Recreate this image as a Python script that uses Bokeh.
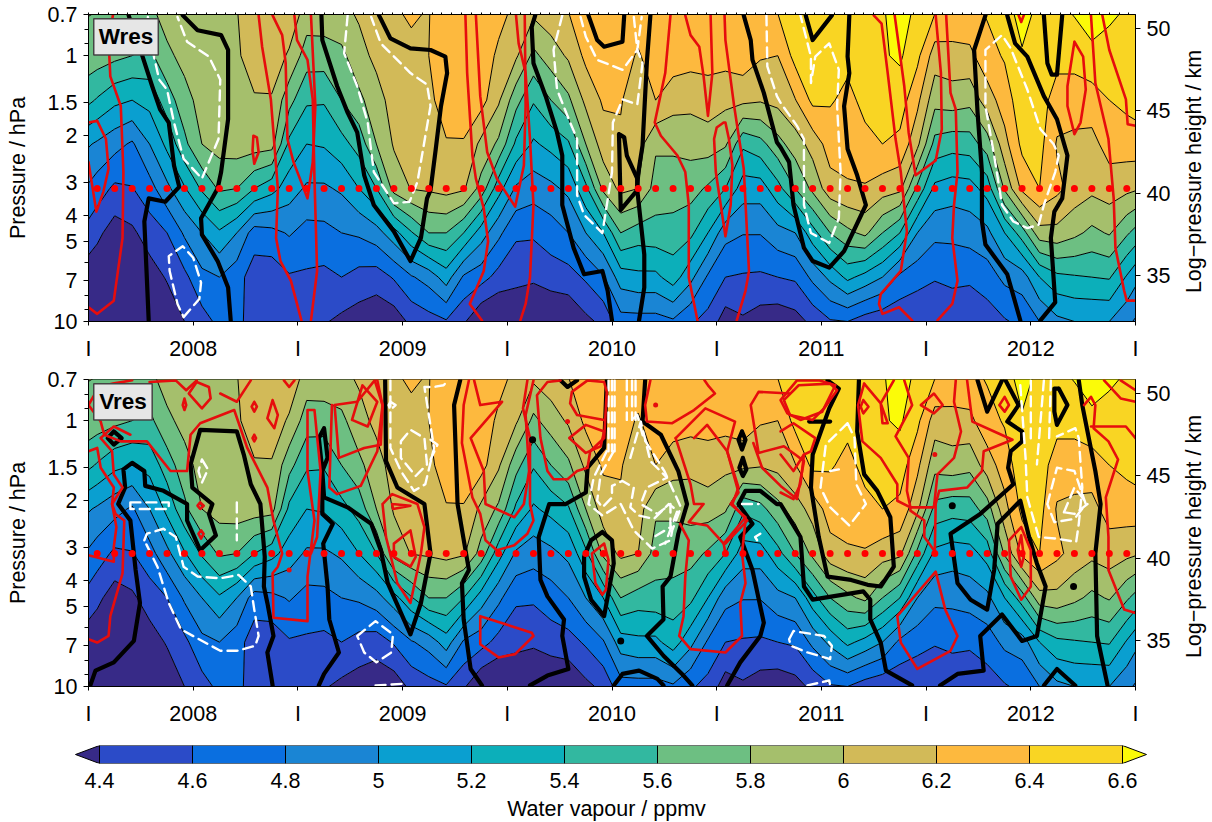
import numpy as np
from bokeh.core.properties import value
from bokeh.embed import file_html
from bokeh.layouts import column, row
from bokeh.models import FixedTicker, LinearAxis, Range1d
from bokeh.plotting import figure
from bokeh.resources import INLINE

# --- axes content -----------------------------------------------------------
levels_hpa = [10, 6.81, 4.64, 3.16, 2.15, 1.47, 1.0, 0.68]
left_ticks_hpa = [0.7, 1, 1.5, 2, 3, 4, 5, 7, 10]
left_labels = ["0.7", "1", "1.5", "2", "3", "4", "5", "7", "10"]
left_minor_hpa = [0.8, 0.9, 6, 8, 9]
right_ticks_km = [35, 40, 45, 50]
year_labels = ["I", "2008", "I", "2009", "I", "2010", "I", "2011", "I", "2012", "I"]
cbar_levels = [4.4, 4.6, 4.8, 5.0, 5.2, 5.4, 5.6, 5.8, 6.0, 6.2, 6.4, 6.6]
cbar_labels = ["4.4", "4.6", "4.8", "5", "5.2", "5.4", "5.6", "5.8", "6", "6.2", "6.4", "6.6"]
band_colors = ["#372a87", "#2b4bc8", "#0a6fe0", "#1a85d4", "#0a9fd0", "#0cafba", "#32b8a0",
               "#6dbf82", "#a5bf6c", "#d2ba58", "#fdb93e", "#f9d523", "#fbfb08"]

# --- water vapour (ppmv): one row per month, one value per pressure level ------
wv_2008 = [
 [4.1,4.25,4.45,4.7,4.97,5.38,5.7,5.8],[4.05,4.2,4.3,4.56,4.87,5.25,5.65,5.78],
 [4.05,4.22,4.36,4.59,4.77,5.2,5.6,5.78],[4.1,4.3,4.5,4.72,5.0,5.27,5.55,5.75],
 [4.25,4.42,4.6,4.95,5.25,5.5,5.75,5.9],[4.4,4.55,4.83,5.18,5.55,5.72,5.87,5.95],
 [4.52,4.75,5.0,5.43,5.8,5.88,5.93,5.96],[4.65,4.8,5.17,5.63,5.88,5.92,5.95,5.97],
 [4.63,4.68,5.0,5.6,5.9,5.95,5.97,5.99],[4.55,4.5,4.7,5.4,5.9,5.98,6.1,6.18],
 [4.5,4.48,4.74,5.27,5.88,5.98,6.12,6.18],[4.45,4.58,4.82,5.1,5.35,5.67,5.97,6.15]]
wv_2009 = [
 [4.45,4.57,4.73,4.97,5.2,5.43,5.7,5.92],[4.42,4.55,4.74,4.97,5.22,5.42,5.7,5.93],
 [4.35,4.6,4.8,5.03,5.33,5.6,5.75,5.95],[4.3,4.53,4.83,5.2,5.48,5.75,5.93,6.03],
 [4.25,4.5,4.92,5.4,5.8,5.92,6.05,6.15],[4.28,4.62,5.12,5.88,6.02,6.08,6.14,6.18],
 [4.45,4.78,5.38,6.01,6.1,6.12,6.15,6.23],[4.52,4.88,5.6,6.03,6.15,6.17,6.2,6.19],
 [4.58,5.1,5.6,6.07,6.19,6.26,6.3,6.35],[4.43,4.77,5.4,6.03,6.19,6.27,6.32,6.36],
 [4.2,4.68,5.1,5.72,5.95,6.28,6.32,6.35],[4.15,4.53,4.85,5.28,5.76,6.03,6.16,6.27]]
wv_2010 = [
 [4.15,4.48,4.63,4.97,5.36,5.67,6.03,6.15],[4.15,4.44,4.63,4.89,5.17,5.42,5.75,6.05],
 [4.18,4.5,4.7,4.95,5.26,5.6,5.9,6.12],[4.22,4.52,4.8,5.05,5.37,5.76,6.03,6.2],
 [4.35,4.63,5.0,5.35,5.8,6.05,6.25,6.3],[4.45,4.78,5.2,5.85,6.1,6.23,6.3,6.36],
 [4.72,5.1,5.6,6.05,6.18,6.21,6.28,6.35],[4.72,5.15,5.5,6.0,6.08,6.12,6.18,6.3],
 [4.72,5.15,5.52,5.72,5.83,6.2,6.3,6.38],[4.77,5.3,5.5,5.72,5.83,6.09,6.3,6.38],
 [4.63,5.06,5.45,5.68,5.87,6.06,6.28,6.38],[4.53,4.77,5.2,5.57,5.9,6.1,6.28,6.38]]
wv_2011 = [
 [4.3,4.6,4.87,5.4,5.83,6.05,6.28,6.38],[4.37,4.58,4.81,5.1,5.44,6.05,6.32,6.4],
 [4.3,4.57,4.81,5.1,5.53,6.02,6.22,6.4],[4.27,4.6,4.93,5.33,5.73,6.06,6.2,6.41],
 [4.32,4.63,5.0,5.6,5.9,6.19,6.47,6.58],[4.45,4.85,5.32,5.85,6.08,6.45,6.52,6.58],
 [4.58,5.05,5.6,6.12,6.29,6.42,6.5,6.56],[4.6,5.25,5.75,6.18,6.27,6.35,6.45,6.55],
 [4.5,5.13,5.85,6.18,6.35,6.45,6.5,6.57],[4.45,5.0,5.6,6.1,6.4,6.5,6.58,6.58],
 [4.45,4.75,5.4,6.05,6.35,6.5,6.63,6.7],[4.42,4.68,5.0,5.55,6.05,6.25,6.45,6.55]]
wv_2012 = [
 [4.4,4.62,4.85,5.15,5.53,5.87,6.1,6.42],[4.45,4.65,4.85,5.1,5.48,5.9,6.13,6.35],
 [4.47,4.63,4.89,5.12,5.5,5.86,6.15,6.35],[4.5,4.7,4.95,5.28,5.7,6.1,6.33,6.42],
 [4.58,4.85,5.2,5.83,6.13,6.3,6.42,6.52],[4.65,4.9,5.5,6.25,6.45,6.52,6.58,6.68],
 [4.8,5.2,5.92,6.4,6.47,6.5,6.52,6.55],[4.95,5.35,5.94,6.25,6.18,6.3,6.47,6.55],
 [5.0,5.38,5.85,6.12,6.15,6.3,6.47,6.62],[5.0,5.4,5.75,6.05,6.14,6.3,6.55,6.7],
 [5.0,5.42,5.82,6.1,6.28,6.4,6.5,6.65],[4.85,5.18,5.63,6.05,6.3,6.45,6.52,6.58]]

# --- overlaid contours, as (months since start, log-pressure height km) --------
wres_black = [
 [(2.3,50.8),(3.1,48.3),(3.65,46.5),(4.1,45.1),(4.6,44.3),(4.9,41.7),(5.2,40.4),(4.4,39.5),(3.45,39.7),(3.2,38.3),(3.45,32.3)],
 [(5.4,50.8),(6.25,49.9),(7.6,49.6),(8,48.7),(8,44.5),(7.6,41.3),(7.4,40.3),(6.45,38.5),(6.5,37.5),(7.4,35.9),(8,34.3),(8.15,32.3)],
 [(13.35,50.8),(13.4,49.3),(14.25,46.5),(14.85,44.9),(15.4,43.7),(15.8,41.1),(16.35,39.3),(17.5,37.7),(18.45,35.9),(19.05,37.3),(19.4,39.7),(19.6,40.2),(19.9,42.7),(20.2,45.3),(20.55,47.3),(20.45,48.3),(19.6,48.7),(18.45,48.8),(17.3,49.4),(16.65,50.8)],
 [(25.6,50.8),(25.4,50.1),(25.5,47.9),(26.2,45.9),(26.85,43.7),(27.15,42.3),(27.15,39.3),(27.8,36.7),(28.4,35.1),(29.45,35.3),(29.75,34.1),(30,32.3)],
 [(28.65,50.8),(29.15,49.3),(29.55,48.9),(30.6,49.2),(30.7,50.8)],
 [(32.2,50.8),(32,48),(31.75,42.9),(31.45,40.9),(31.45,40.2),(31.85,36.3),(31.85,34.3),(31.55,32.3)],
 [(30.4,43.6),(30.7,43.4),(30.85,42.3),(31.45,40.9),(31.45,40.2),(30.5,39),(30.4,43.6)],
 [(37.55,50.8),(37.95,49.3),(38.05,48.1),(38.7,46.1),(39.45,43.1),(39.66,42.8),(40.15,41.9),(40.4,39.3),(41,36.7),(41.5,35.9),(42.45,35.5),(43.3,36.5),(44.55,39.3),(44.05,41.1),(43.5,42.7),(43.3,45.3),(43.6,47.3),(43.5,48.3),(43.6,50.8)],
 [(41.1,50.8),(41.5,49.3),(42.6,50.8)],
 [(51.4,50.8),(50.75,48.7),(50.95,44.9),(51.2,41.3),(51.2,38.3),(51.4,36.9),(52.65,35.1),(53.4,32.3)],
 [(52.65,50.8),(53.1,49.1),(53.8,48.3),(54.75,45.9),(55.5,44.5),(56.1,42.3),(55.8,39.7),(55.35,38.9),(55.15,37.3),(55.4,33.4),(54.55,32.3)],
 [(54.75,50.8),(54.95,47.9),(55.2,47.2),(55.5,47.2),(55.8,50.8)],
]
wres_red = [
 [(1.4,50.8),(1.15,49.3),(1.25,47.1),(1.85,45.3),(2,41.3),(1.95,37.3),(1.45,33.5),(.5,32.7),(0,33.1)],
 [(0,44.3),(.5,44.4),(1,43.3),(1.15,41.5),(.85,40.1),(.45,38.9),(0,41.9)],
 [(9.75,50.8),(9.95,48.9),(10.45,45.7),(10.85,40.3),(10.75,37.3),(11,35.9),(11.6,34.7),(12.2,32.3)],
 [(10.55,50.8),(11.1,49.6),(11.3,47.9),(11.4,43.3),(11.75,41.9),(12.55,39.7),(12.85,41.9),(13,45.3),(12.75,50.8)],
 [(11.8,50.8),(11.95,49.3),(12.55,48.1),(12.85,45.7),(12.95,40.9),(13.1,35.3),(12.75,32.3)],
 [(9.45,43.5),(9.65,43.4),(9.75,42.5),(9.5,41.8),(9.4,42.6),(9.45,43.5)],
 [(21.6,50.8),(21.7,47.3),(22,42.3),(22.2,40.9),(22.65,39.1),(22.9,37.1),(22.65,35.3),(21.85,33.3),(22.55,32.3)],
 [(22.2,50.8),(22.45,45.9),(22.85,42.5),(23.4,40.9),(24.45,39.2),(24.95,41.7),(25.05,45.3),(25,50.8)],
 [(24.5,50.8),(24.65,49.1),(25.05,47.3),(25.3,43.3),(25.5,39.3),(25.3,34.9),(25.05,33.3),(24.75,32.3)],
 [(33.35,50.8),(33.05,47.3),(32.45,44.3),(32.8,43.5),(33.75,42.3),(34.2,41.3),(34.4,39.3),(34.4,34.9),(34.9,32.3)],
 [(34.2,50.8),(34.5,49.6),(35,48.9),(35.25,47.1),(35.5,44.7),(35.75,47.3),(35.65,50.8)],
 [(36.45,50.8),(36.5,49.3),(37,45.3),(37.55,41.5),(37.85,35.3),(37.65,34.1),(37.15,32.3)],
 [(36.4,44.3),(36,44),(35.85,43.3),(35.95,41.3),(36.5,37.4),(36.8,39.3),(36.9,41.7),(36.7,43.3),(36.5,44.3),(36.4,44.3)],
 [(45,50.8),(45.45,50.3),(45.8,47.3),(46.25,43.3),(46.55,41.3),(46.9,37.7),(46.55,35.3),(45.4,33.9),(45.3,33.3),(45.5,32.7),(46.45,33.1),(47.2,32.3)],
 [(46.2,50.8),(46.75,46.5),(47,43.7),(47.4,41.1),(48.55,42),(48.9,43.9),(48.85,47.3),(48.55,50.8)],
 [(49.15,50.8),(49.4,46.1),(49.7,45.1),(49.8,41.3),(49.6,39.3),(49.5,37.3),(49.8,34.7),(49.5,33.3),(48.65,32.3)],
 [(53.3,50.8),(53.45,50.4),(53.6,50.8)],
 [(56.5,49.2),(57,48.3),(57.15,46.3),(56.85,44.3),(56.5,43.6),(56.1,45.3),(56.1,46.5),(56.5,49.2)],
 [(57.45,50.8),(57.7,46.7),(58.45,43.3),(58.75,39.7),(58.85,36.7),(59.35,34.1),(59.5,33.5),(60,33.5)],
 [(58.1,50.8),(58.5,48.7),(59.45,45.7),(59.55,44.2),(60,44.1)],
]
wres_white = [
 [(3.4,50.7),(3.75,48.3),(4.05,46.9),(4.5,46.3),(4.9,44.3),(5.45,42.1),(6.5,40.9),(7.45,43.3),(7.55,46.9),(6.9,48.3),(5.65,49.2),(5.1,50.7)],
 [(5.45,32.5),(6.35,33.6),(6.45,34.6),(6,36.1),(5.4,36.8),(4.6,36.2),(4.65,35.3),(5.1,33.3),(5.45,32.5)],
 [(14.85,50.8),(14.65,48.5),(15.4,46.5),(16,44.3),(16.35,41.3),(17.5,39.4),(18.4,39.5),(18.85,40.7),(19.6,45.3),(19.4,46.6),(18.45,47.3),(16.75,49.1),(16.2,50.7)],
 [(27.15,50.8),(26.65,48.7),(26.85,46.3),(27.6,44.3),(28,43.3),(28,39.9),(28.4,38.7),(29.45,37.6),(30,41.3),(30.05,44.3),(30.6,45.7),(31.45,45.4),(31.75,47.9),(31.45,48.7),(30.6,47.5),(29.15,48.1),(28.5,49.5),(28.2,50.7)],
 [(31.25,50.7),(31.45,48.7),(31.7,50.7)],
 [(38.85,50.8),(38.9,47.7),(39.45,45.9),(39.66,45.5),(40.6,44.1),(41,43.3),(41,39.3),(41.4,37.6),(42.45,37),(43,38.5),(43.1,41.3),(42.9,45.3),(43,47.5),(42.45,49.1),(41.65,48.3),(41.4,46.7),(41.4,48.3),(40.8,50.8)],
 [(51.4,48),(51.4,45.3),(51.9,42.3),(52.35,39.3),(53,38.3),(53.8,37.9),(54.45,38.1),(54.75,39.3),(55.4,41.3),(55.6,42.3),(55.3,43),(54.55,43.9),(53.8,46.3),(52.85,48.8),(52.35,49.6),(51.4,48.7),(51.4,48)],
]
vres_black = [
 [(1.45,47.7),(1.9,47.3),(1.45,46.9),(1.1,47.3),(1.45,47.7)],
 [(.1,32.3),(.4,33.2),(1.45,33.7),(2.6,35),(2.95,37.3),(2.7,39.3),(2.4,42.3),(1.7,43.3),(2.1,44.3),(2,45.4),(2.5,45.8),(3.2,45.3),(3.25,44.4),(4.3,44.1),(5.65,43.3),(5.65,42.3),(6.4,40.5),(7.3,41.4),(6.9,42.7),(7.1,43.3),(5.95,44.3),(5.85,45.7),(6.4,47.8),(8.5,47.7),(8.9,46.3),(9.3,44.5),(9.85,43.3),(10.1,40.1),(10.05,38.3),(10.25,37.3),(10.6,35.3),(10.25,34.3),(10.55,32.3)],
 [(13.2,32.3),(13.5,33),(14.35,34.3),(13.8,36.3),(13.7,38.3),(13.45,40.9),(14,42.1),(13.4,42.7),(13.4,45.3),(13.7,46.1),(13.5,47.9),(13.2,47.3),(13.4,45.3),(13.5,43.7),(14.85,43.1),(16.2,42.1),(16.75,40.5),(17.15,38.5),(18.45,35.4),(19.05,37.3),(19.6,40.3),(19.25,43.3),(17.7,44.3),(17.05,45.9),(17,50.8)],
 [(21.3,50.8),(20.95,49.3),(21.15,43.3),(21.8,39.3),(21.4,38.5),(21.5,36.3),(21.9,33.3),(22.55,32.3)],
 [(25.3,32.3),(26.3,32.9),(27.5,33.3),(27.15,35.3),(27.25,36.3),(26.3,37.7),(25.9,38.7),(25.8,41.3),(26.4,43.3),(27.35,43.3),(28.5,44),(28.6,45.5),(29.55,46.7),(29.7,50.8)],
 [(27.05,50.8),(27.45,50.4),(28,50.8)],
 [(29.45,41.6),(30,41.1),(30.1,39.7),(29.55,36.5),(28.8,37.5),(28.4,38.9),(28.4,40.1),(28.8,41.1),(29.45,41.6)],
 [(31.9,50.8),(31.75,48.3),(32.8,47.5),(33.8,45.3),(34.3,43.3),(33.8,41.5),(33.35,38.9),(32.9,38.3),(32.95,36.3),(32,35.3),(32.95,34.1),(34.1,32.9),(34.6,32.3)],
 [(30.1,32.3),(30.6,33),(31.55,33.2),(32.6,32.7),(32.95,32.3)],
 [(37.45,47.7),(37.65,47.2),(37.45,46.6),(37.25,47.2),(37.45,47.7)],
 [(37.5,46.1),(37.7,45.4),(37.5,45),(37.3,45.5),(37.5,46.1)],
 [(36.6,32.3),(37.35,33.7),(38.5,35.3),(38.7,36.1),(38.05,39.3),(37.35,41.3),(38.05,42.1),(37.25,43.3),(37.65,44.1),(38.5,44.1),(39.45,43.3),(39.66,43.3),(40.8,41.3),(41,38.3),(41.5,37.5),(44.4,38),(44.8,37.5),(44.8,36.3),(45.4,34.9),(45.7,33.2),(47.2,32.3)],
 [(41.3,48.3),(42.5,48.3)],
 [(42.35,50.8),(43,50.3),(42.45,49.1),(41.5,46.3),(41.4,44.3),(41.85,41.3),(42.35,38.9),(43.7,38.7),(44.65,38.4),(45.4,38.3),(46.15,39.5),(45.95,42.5),(45.2,44.1),(44.45,45.1),(44.05,47.7),(44.15,50.8)],
 [(48.8,32.3),(49.8,33),(51.3,33.2),(51.1,35.3),(52.35,36.6),(53.5,35),(54.35,35.3),(54.85,38.3),(54.35,39.7),(53.9,41.3),(53.4,43.5),(52.1,42.1),(51.9,39.3),(51.5,36.9),(50.55,37.5),(49.8,38.5),(49.4,41.5),(51.1,42.7),(53,44.5),(52.7,45.5),(52.85,46.5),(53.5,47.1),(53.5,47.7),(52.65,48.3),(53.3,49.3),(52.55,50.8)],
 [(50.95,50.8),(51.5,48.9),(52.35,50.8)],
 [(55.6,50.3),(56.1,49.3),(55.5,48.1),(55.35,48.9),(55.35,50.3),(55.6,50.3)],
 [(56.75,50.8),(56.95,49.3),(57.7,45.3),(58,43.3),(57.7,40.3),(57.8,35.3),(58.4,32.3)],
 [(54.75,32.3),(55.5,33.3),(56.55,32.3)],
]
vres_black_blobs_x = [25.45, 30.5, 49.5, 56.45]
vres_black_blobs_km = [47.2, 35.0, 43.2, 38.3]
vres_red = [
 [(0,35.1),(.5,34.9),(1.15,35.3),(1.25,36.5),(1.95,39.1),(2.05,42.3),(1.55,42.7),(1.35,43.3),(1.95,44.3),(1.45,45.1),(1.35,46.5),(.7,47.3),(1.45,48),(2.4,47.5)],
 [(0,46.5),(.5,46.7),(.7,45.5),(1.45,44.3),(1.35,43.3),(1.6,41.9),(1.45,40.7),(1.45,39.8),(0,40.2)],
 [(0,49.3),(.7,48.3),(.9,47.5),(1.85,47.1),(3.35,47.1),(4.7,45.3),(5.65,45.3),(5.85,47.5),(6.4,48.2),(8.35,49),(9.1,46.7),(10.25,44.3),(10.6,42.3),(11.1,40.3),(10.85,39.5),(10.55,39.1),(10.6,36.4),(12.55,36.2),(12.55,38.9),(12.95,42.3),(12.55,45.3),(12.55,49),(12.95,49),(13.3,45.3),(13.1,41.3),(12.75,40.3)],
 [(5.75,50),(6.2,50.7),(6.9,50.4),(7,49.7),(6.5,49.1),(5.75,50)],
 [(5.5,49.7),(5.6,49.3),(5.5,49),(5.4,49.3),(5.5,49.7)],
 [(9.5,49.5),(9.65,49.2),(9.5,48.9),(9.35,49.2),(9.5,49.5)],
 [(10.55,49.6),(10.85,48.7),(10.65,47.9),(10.25,48.5),(10.55,49.6)],
 [(9.5,47.5),(9.6,47.3),(9.5,47.1),(9.4,47.3),(9.5,47.5)],
 [(6.4,43.4),(6.6,43.2),(6.4,43),(6.25,43.2),(6.4,43.4)],
 [(6.45,41.7),(6.6,41.5),(6.45,41.2),(6.3,41.5),(6.45,41.7)],
 [(7.55,50),(8.5,49.5),(9.3,50.8)],
 [(0,49.3),(.6,50.4),(1.4,50.6),(2.5,50.8)],
 [(3.5,50.7),(5,50.8),(5.6,50.2),(6.2,50.8)],
 [(11.2,50.8),(11.5,50.4),(11.8,50.8)],
 [(14.1,49.3),(15.4,49.5),(16.4,50.8),(16.85,49.3),(16.75,46.9),(15.8,46.7),(14.35,46.1),(14.1,49.3)],
 [(13.95,49.3),(13.8,44.3),(14.25,43.9),(15.6,44.4),(16.55,46.5),(16.85,49.3),(16.55,50.8)],
 [(15.1,48.4),(16,48),(16.55,49.5),(15.7,50.5),(15.1,48.4)],
 [(16.85,43.3),(17.4,43.9),(18.85,43.3),(19.25,41.9),(19.05,40.3),(18.45,37.3),(17.7,38.5),(17.05,41.3),(16.85,43.3)],
 [(17.5,40.9),(18.45,41.7),(18.75,40.1),(18.45,39.5),(17.5,40.1),(17.5,40.9)],
 [(17.4,43.3),(18.45,43.2),(17.45,43),(17.4,43.3)],
 [(25.15,50.8),(24.9,49.1),(25.3,47.3),(25.3,43.3),(25.5,42.3),(25.15,41.5),(24.4,40.8),(23.4,40.5),(22.75,41.1),(22.45,42.7),(22,43.7),(21.4,47),(21.5,49.3),(21.8,50.8)],
 [(22.1,50.8),(22.45,49.3),(23.7,49.5),(21.9,47.3),(22.65,45.3),(22.75,43.3),(24.4,42.5),(24.95,43.3),(25.25,45.3),(25.05,48.7),(25.5,50.8)],
 [(27.05,50.8),(26.3,50.7),(25.7,49.9),(25.9,47.3),(26.3,45.3),(26.65,44.8),(27.45,44.8),(28,45.3),(28.6,45.5),(28.75,46.5),(29.55,47.3),(29.7,50.1),(29.55,50.7),(28.6,50.8),(27.7,50.1),(27.6,49.4),(28,48.7),(29.55,48.4)],
 [(27.55,47.3),(28.5,48.1),(29.55,47.7),(29.35,46.8),(28.5,46.4),(27.55,47.3)],
 [(22.45,36.5),(25.4,35.5),(25.5,35.3),(24.45,34.2),(23.5,34),(22.45,34.8),(22.45,36.5)],
 [(29.55,40.9),(29.8,39.9),(29.65,38.1),(29.45,37.8),(29.05,38.5),(28.85,40.3),(29.55,40.9)],
 [(32.2,50.8),(31.9,49.3),(32,48.3),(33.45,48.2),(34.7,49),(35.9,50),(35.5,50.5),(35.3,50.8)],
 [(33.65,47.3),(35.35,49.1),(37.05,48.3),(36.6,46.5),(37.25,44.3),(36.9,43.3),(37.75,42.3),(36.5,40.9)],
 [(33.65,47.3),(34.5,44.5),(34.7,43.3),(35.25,43.3),(34.4,42.2),(35.45,42),(36.4,40.9),(36.5,40.3)],
 [(34.7,47.3),(35.45,48.1),(36.6,46.5),(37.25,44),(36.8,43.3),(37.65,42.5),(36.4,40.9)],
 [(33.9,42.1),(34.4,41.1),(34.2,38.9),(34.1,36.5),(33.85,35.3),(34.5,34.5),(36.5,34.3),(37.45,35.3),(37.35,37.3),(37.65,38.5),(37.45,40.3),(37.65,42.3)],
 [(40.2,50),(38.4,50.1),(37.95,49.3),(38.4,46.4),(39.85,46.8),(40.5,46.3),(41,45.9),(40.6,43.6),(39.66,44.4),(38.6,45.5),(38.1,47)],
 [(39.66,49.6),(40.6,50.8),(41.85,50.8),(42.8,50.5),(42.05,48.9),(40.8,48.4),(40.05,48.8),(39.66,49.6)],
 [(39.85,49.6),(40.7,50.5),(42.5,50.6),(42.9,50.2),(42.15,49.1),(41.5,48.4),(40.2,48.7),(39.85,49.6)],
 [(39.66,47.7),(40.4,48.2),(41.65,47.3),(41.4,46.5),(41,46.3),(40.8,44.5),(40.4,43.6),(39.66,44)],
 [(39.66,46.3),(40.4,45.3),(41,46.3)],
 [(44.45,50.6),(44.1,49.3),(44.35,47.1),(45.4,46.1),(46.35,44.5),(46.35,43.5),(47.1,43.1),(47.1,42.9),(47.9,42.3),(47.9,41.3),(48.45,40.5)],
 [(44.45,50.6),(45.4,49.4),(45.5,48.2),(45.8,48.2),(45.4,49.4),(46.15,50.8)],
 [(46.75,50.8),(47.2,49.3),(46.25,47.4),(47,46.1),(46.9,44.1),(47.1,43.1),(48.45,43.1),(48.65,45.1),(49.6,46.1),(50,47.7),(49.6,49.5),(49.7,50.8)],
 [(44.4,49.6),(44.7,49.2),(44.4,48.8),(44.25,49.2),(44.4,49.6)],
 [(47.7,49.3),(48.45,50),(48.95,49.3),(48.45,48.8),(47.7,49.3)],
 [(52.2,49.3),(52.5,49.8),(52.75,49.3),(52.5,48.9),(52.2,49.3)],
 [(50.35,50.8),(50.65,48.3),(51.9,47.7),(52.95,47.2),(51.3,46.5),(51.2,45.3),(50.35,44.3),(48.75,44.1),(48.55,43.3),(48.5,40.5)],
 [(46.35,36.5),(48.55,39.2),(49.1,36.9),(49.8,35.3),(49.4,34.4),(47.5,33.3),(46.55,34.9),(46.35,36.5)],
 [(53.45,41.9),(54,40.5),(54,38.3),(53.45,37.5),(52.85,38.9),(52.75,41.1),(53.45,41.9)],
 [(53.45,41.4),(53.6,40.1),(53.45,39.5),(53.25,40.5),(53.45,41.4)],
 [(57.05,49.3),(57.45,49.8),(57.7,49.3),(57.6,47.9),(58.45,47.1),(59.0,46),(58.3,43.7),(58.45,41.3),(58.45,39.3),(59.35,36.9),(60,36.7)],
 [(58.2,50.8),(59.15,49.7),(60,49.5)],
 [(59.15,50.8),(60,50.2)],
 [(57.45,48),(59.45,48),(60,47.3)],
]
vres_red_dots_x = [11.5, 27.45, 32.5, 48.5]
vres_red_dots_km = [39.3, 48.3, 49.3, 46.3]
vres_white = [
 [(2.4,43.4),(4.6,43.4),(4.6,43),(2.4,43),(2.4,43.4)],
 [(3.2,41.1),(3.35,41.5),(4.3,41.8),(5,41.3),(5.45,39.5),(6.25,38.9),(7.55,38.8),(8.6,39),(9.3,38.3),(9.5,36.9),(9.75,35.3),(9.55,34.7),(8.5,34.4),(7.55,34.4),(5.3,35.7),(4.6,37.3),(3.95,39.5),(3.2,41.1)],
 [(6.5,46),(6.85,45.4),(6.5,44.6),(6.3,45.3),(6.5,46)],
 [(8.5,43.4),(8.5,41.1)],
 [(15.4,35.3),(16.45,36.2),(17.45,35.4),(17.35,34.3),(16.5,33.7),(15.8,34.3),(15.4,35.3)],
 [(16.45,32.3),(18,32.4)],
 [(17.3,50.8),(17.3,46.7),(17.9,45.3),(18.65,44.1),(19.3,44.5),(19.8,46.7),(19.25,50.4),(19.8,50.4),(20.35,50.5),(20.6,50.8)],
 [(17.9,47.1),(18.45,47.8),(19.25,47.3),(19.4,45.7),(18.75,45),(17.9,46.1),(17.9,47.1)],
 [(17.3,49.5),(17.6,49.3),(17.3,49),(17.2,49.3),(17.3,49.5)],
 [(29.8,50.8),(29.8,46.5)],[(30,50.8),(30,46.5)],[(30.15,50.8),(30.15,46.5)],
 [(30.85,50.8),(30.85,48.4)],[(31.15,50.8),(31.15,48.4)],[(31.35,50.8),(31.35,48.4)],
 [(29.7,46.5),(28.95,44.9),(28.65,43.3),(29.45,42.6),(30.5,43.3),(31.25,41.7),(32.3,40.6),(33.35,41.1),(33.45,41.7),(33.95,43.1),(33,45.3),(31.8,47.3),(31.45,48.7),(31.05,48.3)],
 [(30.1,46.5),(29.35,45.1),(29.15,43.5),(29.45,43.1),(30,43.7),(30,44.4),(30.6,44.7),(31.25,44.3),(31.05,43.1),(31.55,42.6),(32.4,42.4),(33.25,43.3),(33.75,42.9),(33.05,40.9)],
 [(31.05,46.1),(31.65,48.3),(32.2,45.9),(33.15,44.9),(32,44.3),(31.65,43.3),(32.6,42.7),(33.35,43.3),(33.35,41.9),(32.4,41.3)],
 [(37.45,43.3),(38.4,43.3)],
 [(38.5,41.5),(38.2,41.3),(38.5,40.8)],
 [(19.6,47.2),(20,46.9),(19.6,46)],
 [(40.15,35.1),(40.4,35.6),(42.15,35.3),(42.6,34.7),(42.5,33.9),(41.2,34.3),(40.25,34.7),(40.15,35.1)],
 [(41.2,32.3),(42.45,32.6),(42.5,32.3)],
 [(43.5,48.2),(42.25,46.9),(41.95,44.3),(42.5,43.1),(43.6,42),(44.55,43.3),(44,44.5),(43.9,47.3),(43.5,48.2)],
 [(42.5,45.3),(43,45.4)],
 [(53.4,50.5),(53.7,46.1),(53.8,43.7),(54.45,41.3),(55.5,41.2),(56.6,41),(56.75,42.1),(56.95,44.3),(56.75,47.3),(56.55,47.9),(55.5,47.4)],
 [(54,50.8),(54,47)],[(54.75,50.8),(54.35,45.7)],[(55.15,50.8),(55.05,47.3)],
 [(54.95,43.3),(55.5,45.5),(56.5,45.3),(57.15,43.3),(56.5,42.4),(55.35,42.2),(54.95,43.3)],
 [(55.9,42.8),(56.5,44.3),(57.25,43.3),(56.5,42.7),(55.9,42.8)],
]

# --- scales ---------------------------------------------------------------------
FONT = "Liberation Sans"
def km(p):
    return 7.0 * np.log(1000.0 / np.asarray(p, float))

Y_TOP, Y_BOT = float(km(0.7)), float(km(10))
wv = np.array(wv_2008 + wv_2009 + wv_2010 + wv_2011 + wv_2012)
months = np.arange(wv.shape[0]) + 0.5
# extend the month-centred field to the two edges of the time axis
wv_full = np.vstack([1.5 * wv[0] - 0.5 * wv[1], wv, 1.5 * wv[-1] - 0.5 * wv[-2]])
x_full = np.concatenate([[0.0], months, [60.0]])
y_grid = km(levels_hpa)
fill_levels = [3.0] + cbar_levels + [8.0]

def style_axis(ax):
    ax.major_label_text_font = FONT
    ax.major_label_text_font_size = "21.5px"
    ax.major_label_text_color = "black"
    ax.axis_label_text_font = FONT
    ax.axis_label_text_font_size = "21.5px"
    ax.axis_label_text_font_style = "normal"
    ax.axis_label_text_color = "black"
    ax.axis_line_color = "black"
    ax.major_tick_line_color = "black"
    ax.minor_tick_line_color = "black"
    ax.minor_tick_in = 0
    ax.minor_tick_out = 4
    ax.major_tick_in = 0
    ax.major_tick_out = 5

def panel(name, black, red, white, top_pad, bottom_pad, top_ticks, box_right):
    p = figure(frame_width=1047, frame_height=307, output_backend="svg", toolbar_location=None,
               x_range=Range1d(0, 60), y_range=Range1d(Y_BOT, Y_TOP), x_axis_type=None, y_axis_type=None,
               min_border_left=88, min_border_right=40, min_border_top=top_pad, min_border_bottom=bottom_pad,
               outline_line_color="black", outline_line_width=1)
    p.grid.visible = False
    p.contour(x_full, y_grid, wv_full.T, levels=fill_levels, fill_color=band_colors,
              line_color="black", line_width=1)
    def lines(data, color, width, dash="solid"):
        p.multi_line([[a for a, _ in l] for l in data], [[b for _, b in l] for l in data],
                     line_color=color, line_width=width, line_dash=dash,
                     line_join="round", line_cap="round")
    lines(black, "black", 4.2)
    lines(white, "white", 2.4, "10 6")
    lines(red, "#e60d0d", 2.6)
    p.scatter(months, [float(km(3.16))] * len(months), size=7, color="#ff0000", line_width=0)
    p.quad(left=[0.3], right=[box_right], bottom=[48.4], top=[50.6], fill_color="#e6e6e6",
           line_color="#444444", line_width=1.5)
    p.text(x=[(0.3 + box_right) / 2], y=[49.5], text=[name], text_font=value(FONT), text_font_size="22.5px",
           text_font_style="bold", text_align="center", text_baseline="middle", text_color="black")

    left = LinearAxis(ticker=FixedTicker(ticks=[round(float(km(t)), 4) for t in left_ticks_hpa],
                                         minor_ticks=[float(km(t)) for t in left_minor_hpa]),
                      axis_label="Pressure / hPa", axis_label_standoff=15, major_label_standoff=6)
    left.major_label_overrides = {round(float(km(t)), 4): s for t, s in zip(left_ticks_hpa, left_labels)}
    style_axis(left)
    p.add_layout(left, "left")

    right = LinearAxis(ticker=FixedTicker(ticks=right_ticks_km), major_label_standoff=6)
    style_axis(right)
    p.add_layout(right, "right")

    bottom = LinearAxis(ticker=FixedTicker(ticks=list(range(0, 61, 6))), major_label_standoff=11)
    bottom.major_label_overrides = {6 * i: s for i, s in enumerate(year_labels)}
    style_axis(bottom)
    bottom.major_tick_out = 4
    p.add_layout(bottom, "below")

    if top_ticks:
        above = LinearAxis(ticker=FixedTicker(ticks=[], minor_ticks=[float(t) for t in np.arange(0, 60, 0.5625)]))
        style_axis(above)
        above.minor_tick_out = 2
        p.add_layout(above, "above")
    return p

def side_title():
    # narrow companion figure: a left axis label reads bottom-up, as in the original
    q = figure(frame_width=1, frame_height=314, output_backend="svg", toolbar_location=None,
               x_range=Range1d(0, 1), y_range=Range1d(0, 1), x_axis_type=None, y_axis_type=None,
               min_border_left=36, min_border_right=0, min_border_top=14, min_border_bottom=37,
               outline_line_color=None)
    q.frame_align = False
    q.grid.visible = False
    ax = LinearAxis(ticker=FixedTicker(ticks=[]), axis_label="Log\u2212pressure height / km", axis_label_standoff=6)
    style_axis(ax)
    ax.axis_line_color = None
    ax.major_tick_out = 0
    q.add_layout(ax, "left")
    return q

p1 = panel("Wres", wres_black, wres_red, wres_white, 14, 44, True, 4.0)
p2 = panel("Vres", vres_black, vres_red, vres_white, 14, 44, False, 3.65)
p2.scatter(vres_black_blobs_x, vres_black_blobs_km, size=7, color="black", line_width=0)
p2.scatter(vres_red_dots_x, vres_red_dots_km, size=5, color="#e60d0d", line_width=0)

# --- colour bar -------------------------------------------------------------------
PX_PER_PPMV = 465.0
x0 = 4.4 - 99.0 / PX_PER_PPMV
cb = figure(frame_width=1212, frame_height=18, output_backend="svg", toolbar_location=None,
            x_range=Range1d(x0, x0 + 1212.0 / PX_PER_PPMV), y_range=Range1d(0, 1),
            x_axis_type=None, y_axis_type=None, min_border_left=0, min_border_right=0,
            min_border_top=15, min_border_bottom=40, outline_line_color=None)
cb.frame_align = False
cb.grid.visible = False
cb.quad(left=cbar_levels[:-1], right=cbar_levels[1:], bottom=0, top=1, fill_color=band_colors[1:-1],
        line_color="black", line_width=1)
TIP = 24.0 / PX_PER_PPMV
cb.patch([cbar_levels[0], cbar_levels[0] - TIP, cbar_levels[0]], [0, 0.5, 1], fill_color=band_colors[0],
         line_color="black", line_width=1)
cb.patch([cbar_levels[-1], cbar_levels[-1] + TIP, cbar_levels[-1]], [0, 0.5, 1], fill_color=band_colors[-1],
         line_color="black", line_width=1)
cax = LinearAxis(ticker=FixedTicker(ticks=cbar_levels), axis_label="Water vapour / ppmv",
                 major_label_standoff=9, axis_label_standoff=6)
cax.major_label_overrides = dict(zip(cbar_levels, cbar_labels))
style_axis(cax)
cax.major_tick_out = 0
cax.axis_line_color = None
cb.add_layout(cax, "below")

page = column(row(p1, side_title(), spacing=0), row(p2, side_title(), spacing=0), cb, spacing=0)
open("out.html", "w").write(file_html(page, INLINE))
